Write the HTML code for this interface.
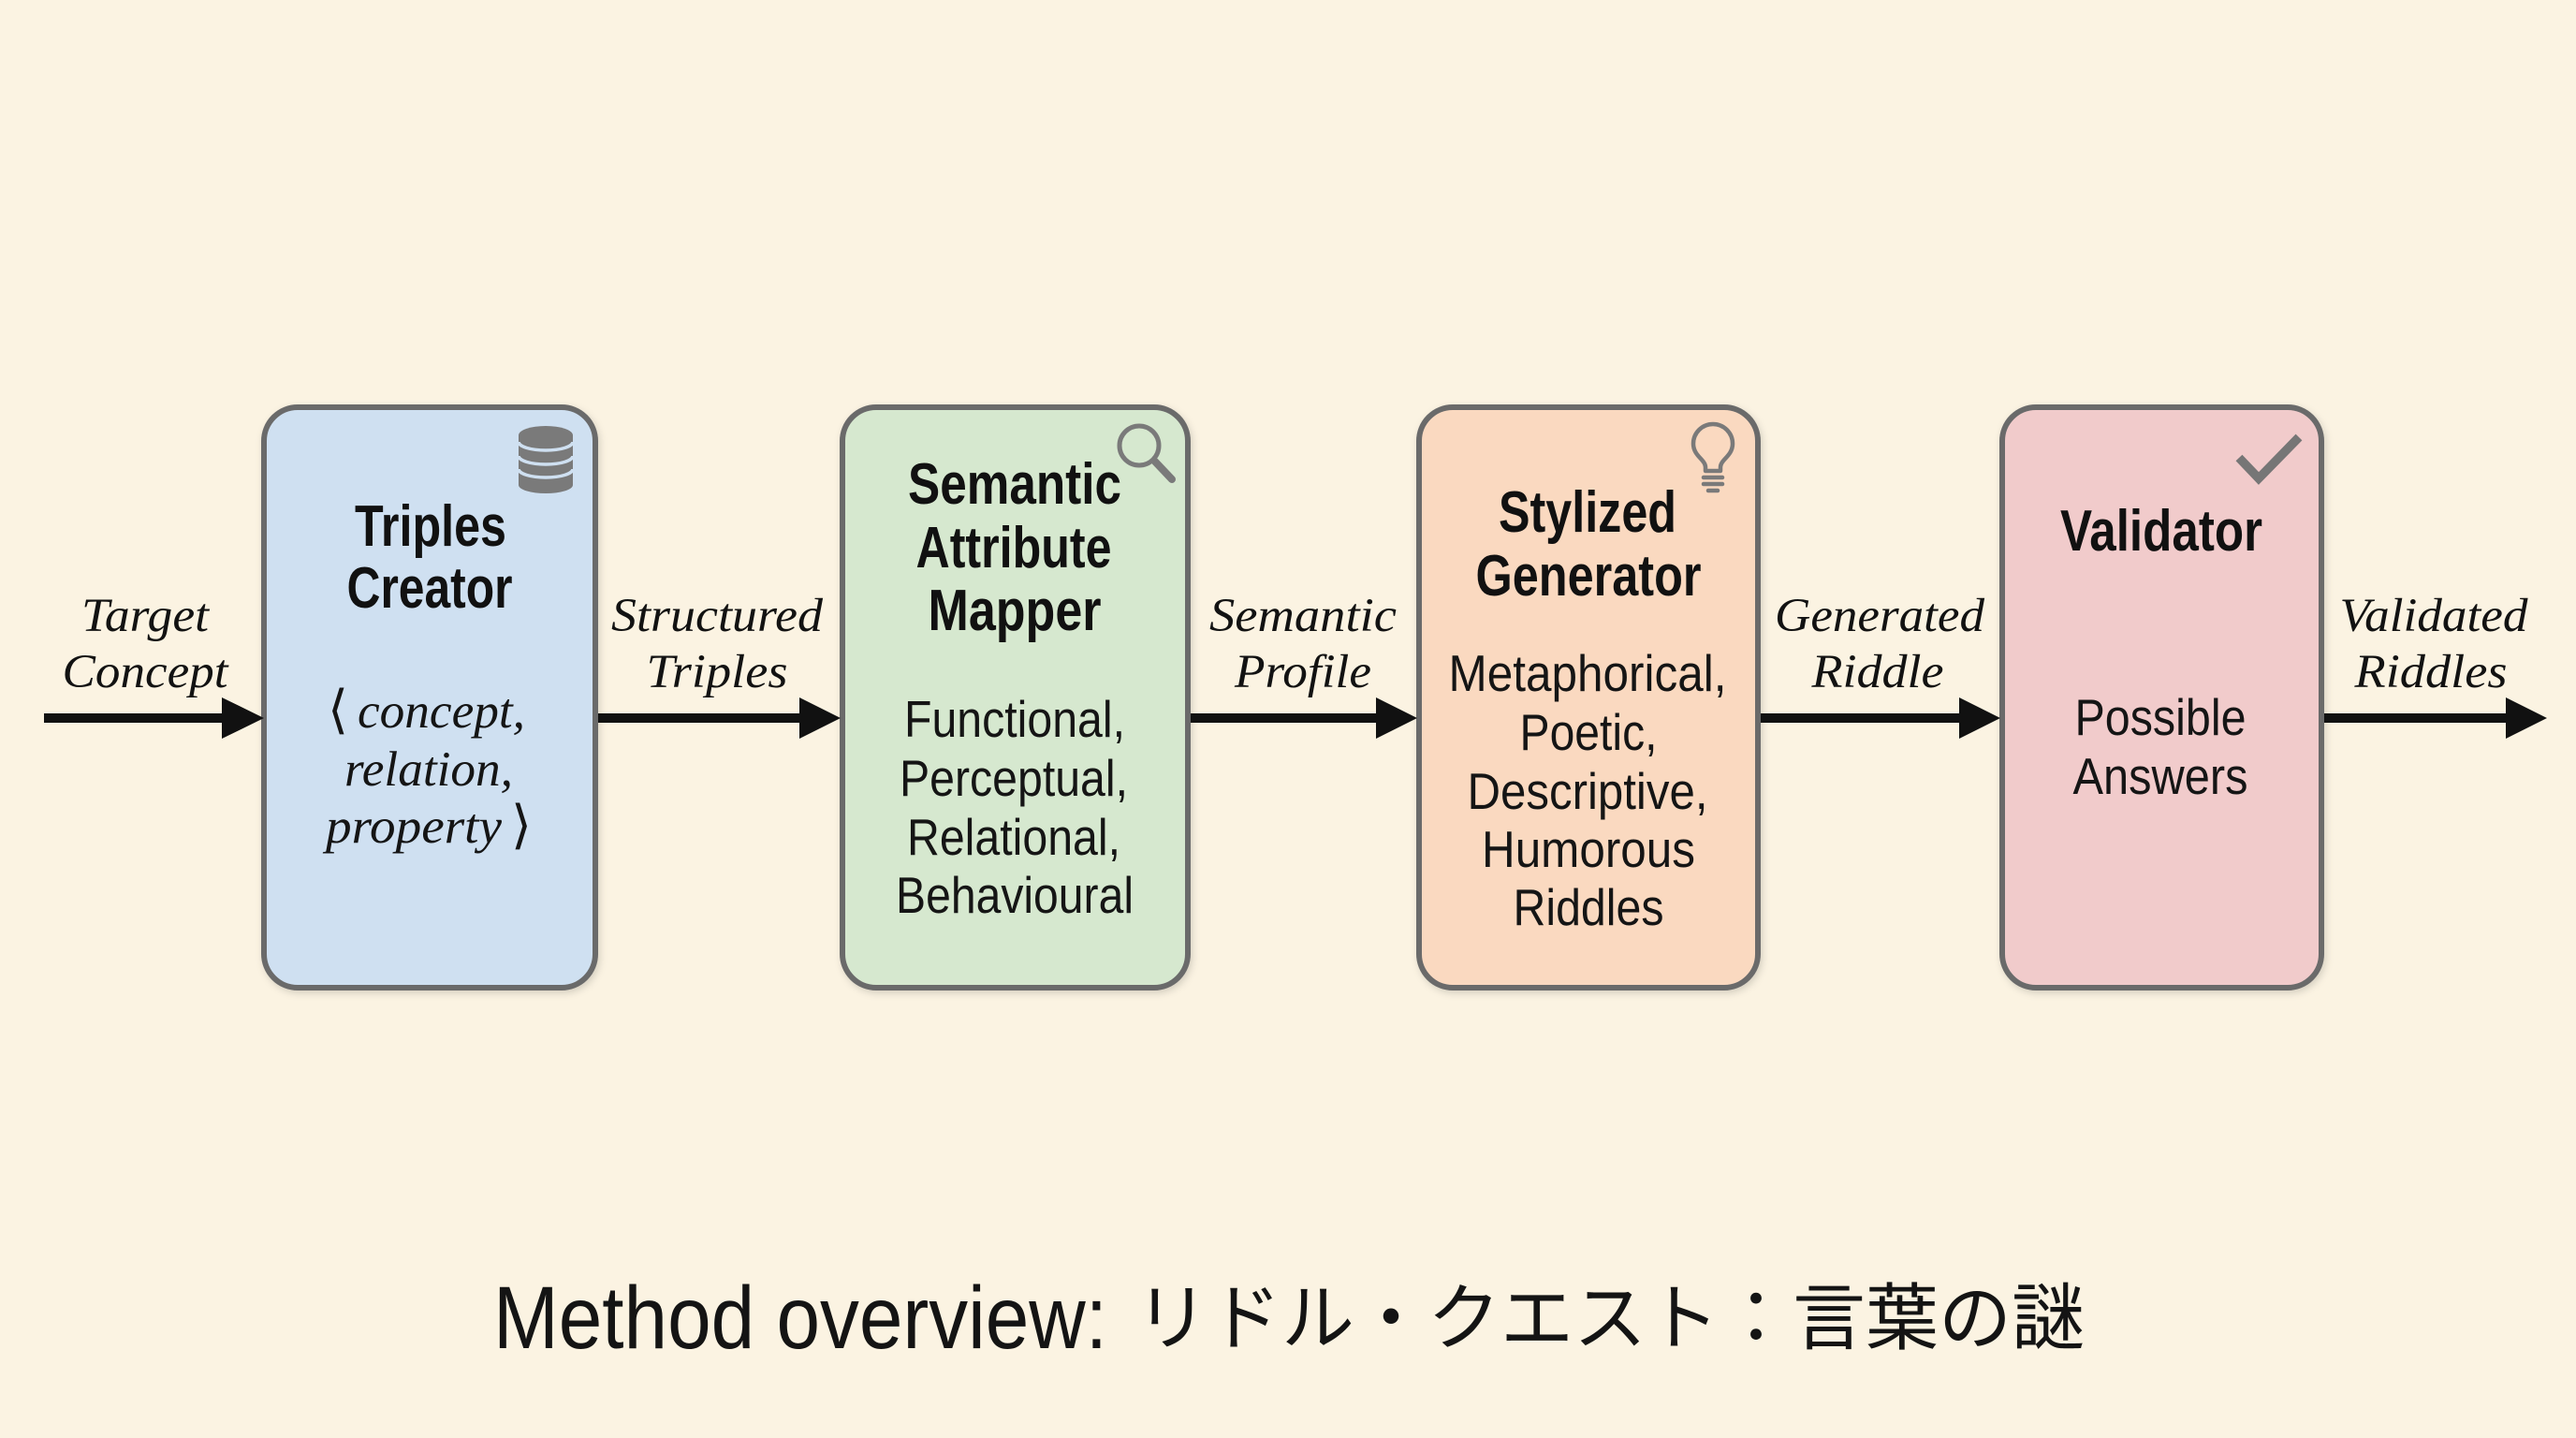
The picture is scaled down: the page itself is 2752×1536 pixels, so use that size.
<!DOCTYPE html>
<html>
<head>
<meta charset="utf-8">
<style>
  html,body{margin:0;padding:0;background:#fbf3e2;}
  svg{display:block;}
  .lbl{font-family:"Liberation Serif","DejaVu Serif",serif;font-style:italic;font-size:51px;fill:#121212;}
  .ttl{font-family:"Liberation Sans","DejaVu Sans",sans-serif;font-weight:bold;font-size:62px;fill:#111;}
  .bdy{font-family:"Liberation Sans","DejaVu Sans",sans-serif;font-size:55px;fill:#151515;}
  .it{font-family:"Liberation Serif","DejaVu Serif",serif;font-style:italic;font-size:53px;fill:#151515;}
  .br{font-family:"DejaVu Serif","Liberation Serif",serif;font-size:56px;fill:#151515;}
  .cap{font-family:"Liberation Sans","DejaVu Sans",sans-serif;font-size:95px;fill:#141414;}
  .cjk{font-family:"Liberation Sans","Noto Sans CJK JP",sans-serif;font-size:78px;fill:#141414;}
</style>
</head>
<body>
<svg width="2752" height="1536" viewBox="0 0 2752 1536" xmlns="http://www.w3.org/2000/svg">
  <defs>
    <filter id="sh" x="-10%" y="-10%" width="120%" height="120%">
      <feDropShadow dx="2" dy="3" stdDeviation="4" flood-color="#000" flood-opacity="0.15"/>
    </filter>
  </defs>
  <rect x="0" y="0" width="2752" height="1536" fill="#fbf3e2"/>

  <!-- Boxes -->
  <rect x="282" y="435" width="354" height="620" rx="36" fill="#cfe0f1" stroke="#6b6b6b" stroke-width="6" filter="url(#sh)"/>
  <rect x="900" y="435" width="369" height="620" rx="36" fill="#d6e8cf" stroke="#6b6b6b" stroke-width="6" filter="url(#sh)"/>
  <rect x="1516" y="435" width="362" height="620" rx="36" fill="#fad9c0" stroke="#6b6b6b" stroke-width="6" filter="url(#sh)"/>
  <rect x="2139" y="435" width="341" height="620" rx="36" fill="#f1cbcb" stroke="#6b6b6b" stroke-width="6" filter="url(#sh)"/>

  <!-- Arrows -->
  <g fill="#111" stroke="none">
    <rect x="47" y="762" width="195" height="10"/>
    <polygon points="237,745 282,767 237,789"/>
    <rect x="639" y="762" width="220" height="10"/>
    <polygon points="854,745 898,767 854,789"/>
    <rect x="1272" y="762" width="203" height="10"/>
    <polygon points="1470,745 1514,767 1470,789"/>
    <rect x="1881" y="762" width="217" height="10"/>
    <polygon points="2093,745 2137,767 2093,789"/>
    <rect x="2483" y="762" width="198" height="10"/>
    <polygon points="2677,745 2721,767 2677,789"/>
  </g>

  <!-- Icons -->
  <g>
    <path d="M554,465 L554,518 A29,9 0 0 0 612,518 L612,465 A29,10 0 0 0 554,465 Z" fill="#7a7a7a"/>
    <g fill="none" stroke="#cfe0f1" stroke-width="3.5">
      <path d="M554,472 A29,9 0 0 0 612,472"/>
      <path d="M554,487 A29,9 0 0 0 612,487"/>
      <path d="M554,501 A29,9 0 0 0 612,501"/>
    </g>
  </g>
  <g fill="none" stroke="#7a7a7a" stroke-linecap="round">
    <circle cx="1217" cy="476" r="21" stroke-width="5"/>
    <line x1="1234" y1="493" x2="1252" y2="512" stroke-width="8"/>
  </g>
  <g fill="none" stroke="#7a7a7a" stroke-width="4.5" stroke-linecap="round" stroke-linejoin="round">
    <path d="M1822,503 L1822,499 C1822,491 1809,487 1809,474 A21,21 0 0 1 1851,474 C1851,487 1838,491 1838,499 L1838,503 Z"/>
    <line x1="1820" y1="510" x2="1840" y2="510"/>
    <line x1="1820" y1="517" x2="1840" y2="517"/>
    <line x1="1825" y1="524" x2="1835" y2="524"/>
  </g>
  <polyline points="2392,489 2413,511 2456,467" fill="none" stroke="#767676" stroke-width="9.5" stroke-linejoin="miter" stroke-linecap="butt"/>

  <!-- Connector labels -->
  <text class="lbl" x="155" y="674" text-anchor="middle" textLength="136" lengthAdjust="spacingAndGlyphs">Target</text>
  <text class="lbl" x="155" y="734" text-anchor="middle" textLength="177" lengthAdjust="spacingAndGlyphs">Concept</text>
  <text class="lbl" x="766" y="674" text-anchor="middle" textLength="226" lengthAdjust="spacingAndGlyphs">Structured</text>
  <text class="lbl" x="766" y="734" text-anchor="middle" textLength="151" lengthAdjust="spacingAndGlyphs">Triples</text>
  <text class="lbl" x="1392" y="674" text-anchor="middle" textLength="200" lengthAdjust="spacingAndGlyphs">Semantic</text>
  <text class="lbl" x="1392" y="734" text-anchor="middle" textLength="146" lengthAdjust="spacingAndGlyphs">Profile</text>
  <text class="lbl" x="2008" y="674" text-anchor="middle" textLength="224" lengthAdjust="spacingAndGlyphs">Generated</text>
  <text class="lbl" x="2006" y="734" text-anchor="middle" textLength="141" lengthAdjust="spacingAndGlyphs">Riddle</text>
  <text class="lbl" x="2600" y="674" text-anchor="middle" textLength="201" lengthAdjust="spacingAndGlyphs">Validated</text>
  <text class="lbl" x="2597" y="734" text-anchor="middle" textLength="163" lengthAdjust="spacingAndGlyphs">Riddles</text>

  <!-- Box 1 -->
  <text class="ttl" x="460" y="583" text-anchor="middle" textLength="162" lengthAdjust="spacingAndGlyphs">Triples</text>
  <text class="ttl" x="459" y="649" text-anchor="middle" textLength="177" lengthAdjust="spacingAndGlyphs">Creator</text>
  <text class="br" x="350" y="777" textLength="22" lengthAdjust="spacingAndGlyphs">⟨</text>
  <text class="it" x="382" y="777" textLength="179" lengthAdjust="spacingAndGlyphs">concept,</text>
  <text class="it" x="458" y="839" text-anchor="middle" textLength="180" lengthAdjust="spacingAndGlyphs">relation,</text>
  <text class="it" x="348" y="900" textLength="188" lengthAdjust="spacingAndGlyphs">property</text>
  <text class="br" x="546" y="900" textLength="22" lengthAdjust="spacingAndGlyphs">⟩</text>

  <!-- Box 2 -->
  <text class="ttl" x="1084" y="538" text-anchor="middle" textLength="228" lengthAdjust="spacingAndGlyphs">Semantic</text>
  <text class="ttl" x="1083" y="606" text-anchor="middle" textLength="209" lengthAdjust="spacingAndGlyphs">Attribute</text>
  <text class="ttl" x="1084" y="673" text-anchor="middle" textLength="185" lengthAdjust="spacingAndGlyphs">Mapper</text>
  <text class="bdy" x="1084" y="787" text-anchor="middle" textLength="236" lengthAdjust="spacingAndGlyphs">Functional,</text>
  <text class="bdy" x="1083" y="850" text-anchor="middle" textLength="244" lengthAdjust="spacingAndGlyphs">Perceptual,</text>
  <text class="bdy" x="1083" y="913" text-anchor="middle" textLength="228" lengthAdjust="spacingAndGlyphs">Relational,</text>
  <text class="bdy" x="1084" y="975" text-anchor="middle" textLength="254" lengthAdjust="spacingAndGlyphs">Behavioural</text>

  <!-- Box 3 -->
  <text class="ttl" x="1696" y="568" text-anchor="middle" textLength="190" lengthAdjust="spacingAndGlyphs">Stylized</text>
  <text class="ttl" x="1697" y="636" text-anchor="middle" textLength="241" lengthAdjust="spacingAndGlyphs">Generator</text>
  <text class="bdy" x="1696" y="738" text-anchor="middle" textLength="297" lengthAdjust="spacingAndGlyphs">Metaphorical,</text>
  <text class="bdy" x="1697" y="801" text-anchor="middle" textLength="147" lengthAdjust="spacingAndGlyphs">Poetic,</text>
  <text class="bdy" x="1696" y="864" text-anchor="middle" textLength="257" lengthAdjust="spacingAndGlyphs">Descriptive,</text>
  <text class="bdy" x="1697" y="926" text-anchor="middle" textLength="228" lengthAdjust="spacingAndGlyphs">Humorous</text>
  <text class="bdy" x="1697" y="988" text-anchor="middle" textLength="161" lengthAdjust="spacingAndGlyphs">Riddles</text>

  <!-- Box 4 -->
  <text class="ttl" x="2309" y="588" text-anchor="middle" textLength="216" lengthAdjust="spacingAndGlyphs">Validator</text>
  <text class="bdy" x="2308" y="785" text-anchor="middle" textLength="183" lengthAdjust="spacingAndGlyphs">Possible</text>
  <text class="bdy" x="2308" y="848" text-anchor="middle" textLength="187" lengthAdjust="spacingAndGlyphs">Answers</text>

  <!-- Caption -->
  <text class="cap" x="527" y="1440" textLength="656" lengthAdjust="spacingAndGlyphs">Method overview:</text>
  <text class="cjk" x="1213" y="1435" textLength="1014" lengthAdjust="spacing">リドル・クエスト：言葉の謎</text>
</svg>
</body>
</html>
